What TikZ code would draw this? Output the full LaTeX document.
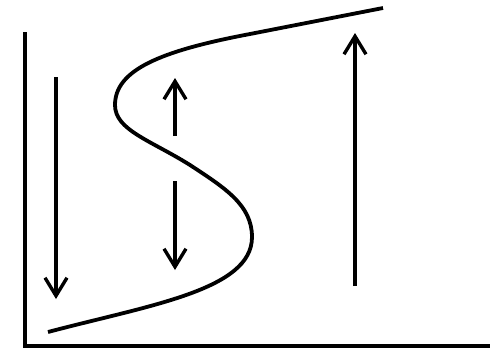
\documentclass[tikz,border=0pt]{standalone}
\usetikzlibrary{arrows.meta}
\begin{document}
\begin{tikzpicture}[x=1pt,y=-1pt,
  axisline/.style={line width=3.3pt},
  curveline/.style={line width=3.8pt},
  flowarrow/.style={line width=3.4pt,-{Straight Barb[length=18pt,width=22pt]}}]
\useasboundingbox (0,0) rectangle (500,349);
% axes
\coordinate (ytop) at (25,32);
\coordinate (origin) at (25,346);
\coordinate (xend) at (490,346);
\draw[axisline] (ytop) -- (origin) -- (xend);
% S-curve
\coordinate (c0) at (48,332);
\coordinate (c1) at (252,237);
\coordinate (c2) at (190,165);
\coordinate (c3) at (115,105);
\coordinate (c4) at (250,34);
\coordinate (c5) at (383,8);
\draw[curveline] (c0) .. controls (150,305) and (252,290) .. (c1)
  .. controls (252,205) and (225,188) .. (c2)
  .. controls (150,140) and (115,130) .. (c3)
  .. controls (115,70) and (160,51) .. (c4) -- (c5);
% arrows
\coordinate (a1s) at (56,77);  \coordinate (a1e) at (56,299);
\coordinate (a2s) at (175,136); \coordinate (a2e) at (175,78);
\coordinate (a3s) at (175,181); \coordinate (a3e) at (175,270);
\coordinate (a4s) at (355,286); \coordinate (a4e) at (355,33);
\draw[flowarrow] (a1s) -- (a1e);
\draw[flowarrow] (a2s) -- (a2e);
\draw[flowarrow] (a3s) -- (a3e);
\draw[flowarrow] (a4s) -- (a4e);
\end{tikzpicture}
\end{document}
